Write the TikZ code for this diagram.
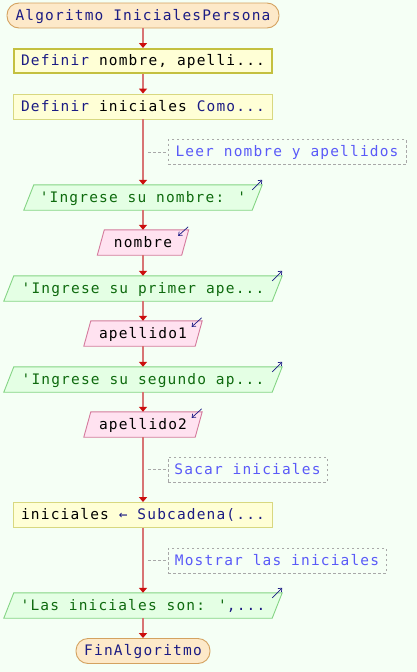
\documentclass[tikz,border=0pt]{standalone}
\usepackage{fontspec}
\newfontfamily\flowfont{DejaVu Sans Mono}[LetterSpace=8]
\usetikzlibrary{arrows.meta,backgrounds}

\definecolor{canvas}{HTML}{F5FFF5}
\definecolor{termfill}{HTML}{FDE9C9}
\definecolor{termline}{HTML}{D4A260}
\definecolor{procfill}{HTML}{FFFFD6}
\definecolor{procline}{HTML}{D8D880}
\definecolor{selline}{HTML}{C4C040}
\definecolor{outfill}{HTML}{E4FFE4}
\definecolor{outline}{HTML}{84D484}
\definecolor{infill}{HTML}{FFE2F0}
\definecolor{inline}{HTML}{D47A9C}
\definecolor{noteline}{HTML}{A8A8A8}
\definecolor{notetext}{HTML}{5A5AF8}
\definecolor{kw}{HTML}{1C1C84}
\definecolor{str}{HTML}{0E6A0E}
\definecolor{flowline}{HTML}{D87474}
\definecolor{tipred}{HTML}{CC0E0E}

\newcommand{\kwd}[1]{\textcolor{kw}{#1}}

\begin{document}
\begin{tikzpicture}[x=1pt,y=-1pt,
  every node/.style={inner sep=0pt, font=\flowfont\fontsize{14.5}{16}\selectfont,
    text height=11pt, text depth=2pt},
  term/.style={draw=termline, fill=termfill, rounded corners=12pt,
    minimum height=25pt, text=kw, line width=0.9pt},
  proc/.style={draw=procline, fill=procfill, minimum height=25pt, line width=0.9pt},
  sel/.style={draw=selline, line width=2pt, minimum height=24pt},
  outio/.style={minimum height=25pt, text=str},
  inio/.style={minimum height=25pt, text=black},
  outshape/.style={fill=outfill, draw=outline, line width=0.9pt},
  inshape/.style={fill=infill, draw=inline, line width=0.9pt},
  note/.style={draw=noteline, dash pattern=on 2.5pt off 2.5pt, line width=0.8pt,
    minimum height=25pt, text=notetext},
  notelink/.style={draw=noteline, dash pattern=on 2.5pt off 2.5pt, line width=0.8pt},
  flow/.style={draw=flowline, line width=1.6pt,
    -{Triangle[width=8pt,length=5pt,color=tipred]}},
  icon/.style={draw=kw, line width=0.7pt, -{Straight Barb[length=3pt,width=5pt]}}
]
\useasboundingbox (0,0) rectangle (417,672);

% terminals and process boxes
\node[term, minimum width=272pt] (start) at (143,15.5) {Algoritmo InicialesPersona};
\node[proc, sel, minimum width=258pt] (b1) at (143,61) {\kwd{Definir} nombre, apelli...};
\node[proc, minimum width=259pt] (b2) at (143,106.5) {\kwd{Definir} iniciales \kwd{Como...}};

% input / output steps (shapes are drawn on the background layer)
\node[outio, minimum width=228pt] (o1) at (143,197.5) {'Ingrese su nombre: '};
\node[inio, minimum width=84pt] (i1) at (143,242.5) {nombre};
\node[outio, minimum width=268pt] (o2) at (143,288.5) {'Ingrese su primer ape...};
\node[inio, minimum width=111pt] (i2) at (143,333.5) {apellido1};
\node[outio, minimum width=268pt] (o3) at (143,379.5) {'Ingrese su segundo ap...};
\node[inio, minimum width=111pt] (i3) at (143,424.5) {apellido2};

\node[proc, minimum width=259pt] (b3) at (143,515) {iniciales \kwd{← Subcadena(...}};
\node[outio, minimum width=268pt] (o4) at (143,605.5) {'Las iniciales son: '\kwd{,...}};
\node[term, minimum width=134pt] (end) at (143,651) {FinAlgoritmo};

% comments
\node[note, minimum width=238pt] (c1) at (287,152) {Leer nombre y apellidos};
\node[note, minimum width=159pt] (c2) at (247.5,469.5) {Sacar iniciales};
\node[note, minimum width=218pt] (c3) at (277,560.5) {Mostrar las iniciales};

\begin{scope}[on background layer]
  \fill[canvas] (0,0) rectangle (417,672);
  \foreach \n in {o1,o2,o3,o4}
    \path[outshape] ([xshift=-5pt]\n.south west) -- ([xshift=5pt]\n.north west)
      -- ([xshift=5pt]\n.north east) -- ([xshift=-5pt]\n.south east) -- cycle;
  \foreach \n in {i1,i2,i3}
    \path[inshape] ([xshift=-3.5pt]\n.south west) -- ([xshift=3.5pt]\n.north west)
      -- ([xshift=3.5pt]\n.north east) -- ([xshift=-3.5pt]\n.south east) -- cycle;
\end{scope}

% output / input markers
\foreach \n in {o1,o2,o3,o4}
  \draw[icon] ([xshift=-5pt,yshift=-5pt]\n.north east) -- ([xshift=5pt,yshift=5pt]\n.north east);
\foreach \n in {i1,i2,i3}
  \draw[icon] ([xshift=3pt,yshift=3pt]\n.north east) -- ([xshift=-7pt,yshift=-6pt]\n.north east);

% flow connectors
\draw[flow] (start.south) -- (b1.north);
\draw[flow] (b1.south) -- (b2.north);
\draw[flow] (b2.south) -- (o1.north);
\draw[flow] (o1.south) -- (i1.north);
\draw[flow] (i1.south) -- (o2.north);
\draw[flow] (o2.south) -- (i2.north);
\draw[flow] (i2.south) -- (o3.north);
\draw[flow] (o3.south) -- (i3.north);
\draw[flow] (i3.south) -- (b3.north);
\draw[flow] (b3.south) -- (o4.north);
\draw[flow] (o4.south) -- (end.north);

% comment links
\coordinate (k1) at (148,152);
\coordinate (k2) at (148,469.5);
\coordinate (k3) at (148,560.5);
\draw[notelink] (k1) -- (c1.west);
\draw[notelink] (k2) -- (c2.west);
\draw[notelink] (k3) -- (c3.west);
\end{tikzpicture}
\end{document}
